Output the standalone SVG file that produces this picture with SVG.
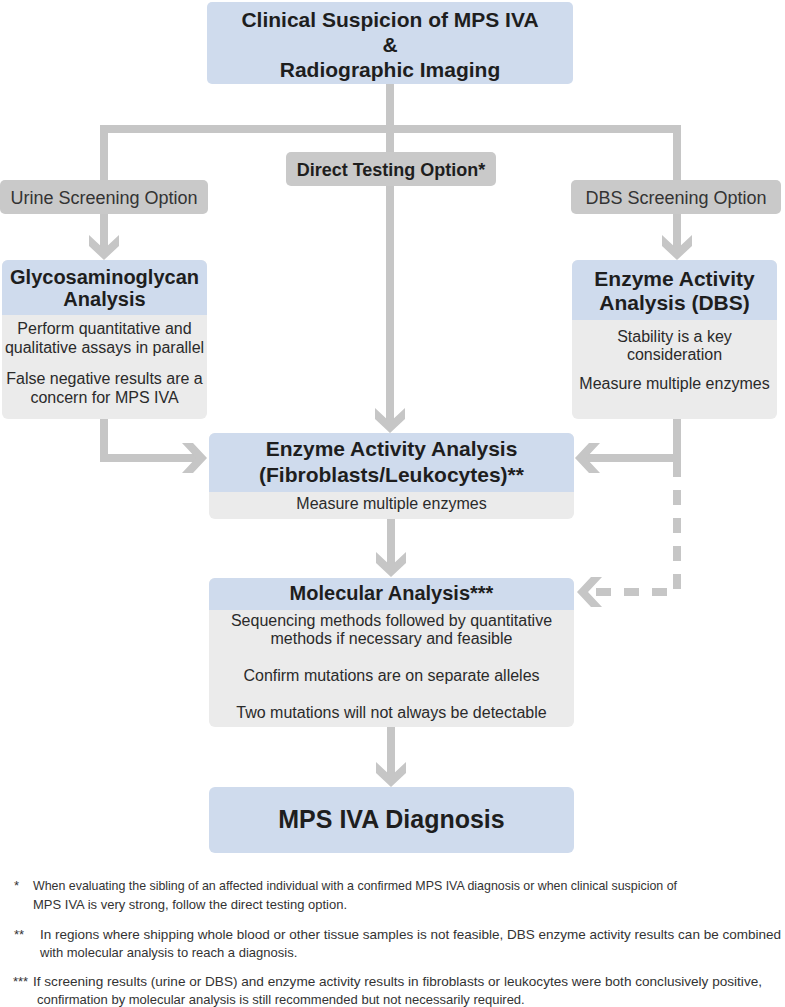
<svg xmlns="http://www.w3.org/2000/svg" width="785" height="1007" viewBox="0 0 785 1007">
<style>
.conn{fill:none;stroke:#c6c6c6;stroke-width:8;stroke-linejoin:miter}
.dash{stroke-dasharray:15 13}
.hdr{fill:#cfdbed}
.body{fill:#ebebeb}
.opt{fill:#c9c9c9}
.t{font-family:"Liberation Sans",Arial,sans-serif;fill:#1e1e1e;text-anchor:middle}
.b{font-weight:bold}
.h1{font-size:21px}
.h2{font-size:21px}
.bt{font-size:16px;fill:#2a2a2a}
.ot{font-size:18px;fill:#333}
.fn{font-family:"Liberation Sans",Arial,sans-serif;font-size:13px;fill:#333}
</style>
<defs>
<marker id="ah" markerUnits="userSpaceOnUse" viewBox="-26 -17 30 34" markerWidth="30" markerHeight="34" refX="-10" refY="0" orient="auto">
<path d="M0 0 L-14 -15 L-25 -15 L-11 0 L-25 15 L-14 15 Z" fill="#c6c6c6"/>
</marker>
</defs>
<rect width="785" height="1007" fill="#fff"/>
<g id="connectors">
<path class="conn" d="M390 84 V129"/>
<path class="conn" d="M104 180 V129 H677 V180"/>
<path class="conn" d="M104 214 V250" marker-end="url(#ah)"/>
<path class="conn" d="M677 214 V250" marker-end="url(#ah)"/>
<path class="conn" d="M390 129 V423" marker-end="url(#ah)"/>
<path class="conn" d="M104 419 V458 H197" marker-end="url(#ah)"/>
<path class="conn" d="M677 419 V458 H585" marker-end="url(#ah)"/>
<path class="conn dash" d="M677 462 V592 H587" marker-end="url(#ah)"/>
<path class="conn" d="M391 519 V567" marker-end="url(#ah)"/>
<path class="conn" d="M391 727 V777" marker-end="url(#ah)"/>
</g>
<g id="n-start">
<rect x="207" y="2" width="366" height="82" rx="5" class="hdr"/>
<text class="t b h1" x="390" y="27">Clinical Suspicion of MPS IVA</text>
<text class="t b h1" x="390" y="52">&amp;</text>
<text class="t b h1" x="390" y="77">Radiographic Imaging</text>
</g>
<g id="n-direct">
<rect x="286" y="152" width="210" height="34" rx="5" class="opt"/>
<text class="t b" x="391" y="175.5" font-size="18">Direct Testing Option*</text>
</g>
<g id="n-urine">
<rect x="0" y="180" width="208" height="34" rx="5" class="opt"/>
<text class="t ot" x="104" y="203.5">Urine Screening Option</text>
</g>
<g id="n-dbsopt">
<rect x="571" y="180" width="210" height="34" rx="5" class="opt"/>
<text class="t ot" x="676" y="203.5">DBS Screening Option</text>
</g>
<g id="n-gag">
<rect x="2" y="260" width="205" height="159" rx="6" class="body"/>
<path d="M2 315 V266 A6 6 0 0 1 8 260 H201 A6 6 0 0 1 207 266 V315 Z" class="hdr"/>
<text class="t b" x="104.5" y="284" font-size="20">Glycosaminoglycan</text>
<text class="t b" x="104.5" y="306" font-size="20">Analysis</text>
<text class="t bt" x="104.5" y="334">Perform quantitative and</text>
<text class="t bt" x="104.5" y="353">qualitative assays in parallel</text>
<text class="t bt" x="104.5" y="384">False negative results are a</text>
<text class="t bt" x="104.5" y="403">concern for MPS IVA</text>
</g>
<g id="n-dbs">
<rect x="572" y="260" width="205" height="159" rx="6" class="body"/>
<path d="M572 320 V266 A6 6 0 0 1 578 260 H771 A6 6 0 0 1 777 266 V320 Z" class="hdr"/>
<text class="t b h2" x="674.5" y="286">Enzyme Activity</text>
<text class="t b h2" x="674.5" y="310">Analysis (DBS)</text>
<text class="t bt" x="674.5" y="342">Stability is a key</text>
<text class="t bt" x="674.5" y="360">consideration</text>
<text class="t bt" x="674.5" y="389">Measure multiple enzymes</text>
</g>
<g id="n-enzyme">
<rect x="209" y="433" width="365" height="86" rx="6" class="body"/>
<path d="M209 492 V439 A6 6 0 0 1 215 433 H568 A6 6 0 0 1 574 439 V492 Z" class="hdr"/>
<text class="t b h2" x="391.5" y="456">Enzyme Activity Analysis</text>
<text class="t b h2" x="391.5" y="482">(Fibroblasts/Leukocytes)**</text>
<text class="t bt" x="391.5" y="509">Measure multiple enzymes</text>
</g>
<g id="n-molecular">
<rect x="209" y="578" width="365" height="149" rx="6" class="body"/>
<path d="M209 610 V584 A6 6 0 0 1 215 578 H568 A6 6 0 0 1 574 584 V610 Z" class="hdr"/>
<text class="t b" x="391.5" y="600" font-size="20">Molecular Analysis***</text>
<text class="t bt" x="391.5" y="626">Sequencing methods followed by quantitative</text>
<text class="t bt" x="391.5" y="644">methods if necessary and feasible</text>
<text class="t bt" x="391.5" y="681">Confirm mutations are on separate alleles</text>
<text class="t bt" x="391.5" y="718">Two mutations will not always be detectable</text>
</g>
<g id="n-diagnosis">
<rect x="209" y="787" width="365" height="66" rx="6" class="hdr"/>
<text class="t b" x="391.5" y="828" font-size="25">MPS IVA Diagnosis</text>
</g>
<g id="footnotes">
<text class="fn" x="14" y="890">*</text>
<text class="fn" x="33" y="890" textLength="644" lengthAdjust="spacingAndGlyphs">When evaluating the sibling of an affected individual with a confirmed MPS IVA diagnosis or when clinical suspicion of</text>
<text class="fn" x="33" y="909">MPS IVA is very strong, follow the direct testing option.</text>
<text class="fn" x="14" y="939">**</text>
<text class="fn" x="40" y="939" textLength="741" lengthAdjust="spacingAndGlyphs">In regions where shipping whole blood or other tissue samples is not feasible, DBS enzyme activity results can be combined</text>
<text class="fn" x="40" y="957">with molecular analysis to reach a diagnosis.</text>
<text class="fn" x="13" y="986">***</text>
<text class="fn" x="33" y="986" textLength="729" lengthAdjust="spacingAndGlyphs">If screening results (urine or DBS) and enzyme activity results in fibroblasts or leukocytes were both conclusively positive,</text>
<text class="fn" x="37" y="1004">confirmation by molecular analysis is still recommended but not necessarily required.</text>
</g>
</svg>
